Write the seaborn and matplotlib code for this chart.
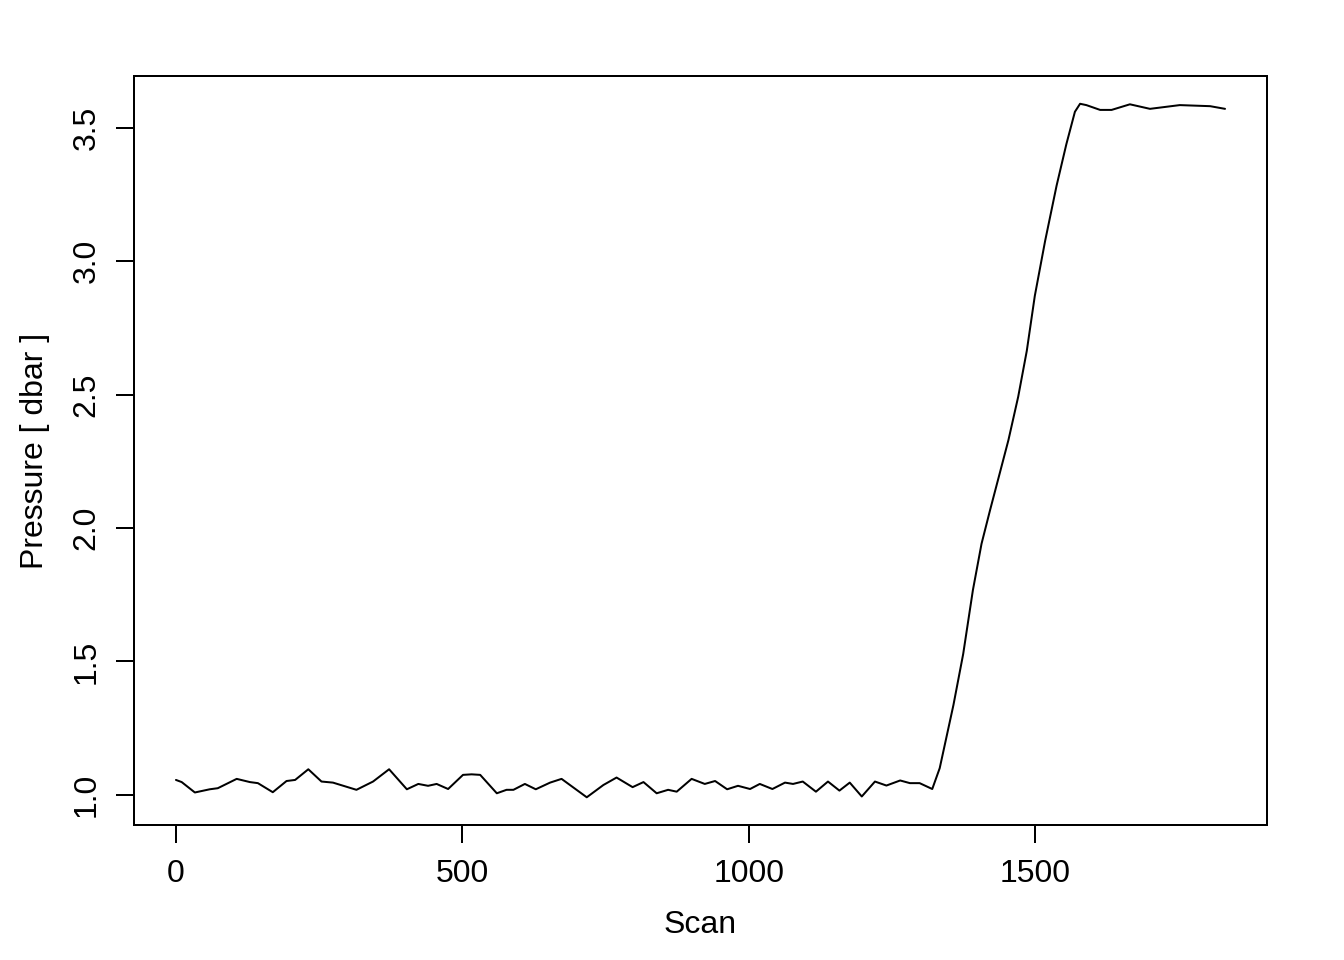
import numpy as np
import pandas as pd
import seaborn as sns
import matplotlib.pyplot as plt

# values
scan = [0, 10, 33, 59, 73, 106, 129, 143, 169, 193, 208, 231, 254, 274, 315,
        344, 372, 403, 423, 440, 455, 475, 501, 516, 531, 560, 577, 589, 609,
        628, 653, 673, 717, 746, 769, 797, 816, 839, 859, 874, 900, 923, 941,
        962, 981, 1002, 1019, 1041, 1063, 1077, 1094, 1117, 1138, 1158, 1176,
        1197, 1220, 1240, 1264, 1281, 1298, 1320, 1333, 1357, 1374, 1391, 1406,
        1421, 1438, 1453, 1470, 1485, 1499, 1517, 1537, 1554, 1569, 1578, 1589,
        1613, 1633, 1665, 1700, 1752, 1805, 1831]
pressure = [1.056, 1.048, 1.009, 1.021, 1.025, 1.060, 1.048, 1.044, 1.010,
            1.052, 1.056, 1.096, 1.050, 1.046, 1.019, 1.050, 1.096, 1.021,
            1.041, 1.034, 1.041, 1.022, 1.075, 1.077, 1.075, 1.006, 1.019,
            1.019, 1.041, 1.021, 1.046, 1.060, 0.991, 1.037, 1.065, 1.029,
            1.048, 1.006, 1.019, 1.012, 1.060, 1.041, 1.052, 1.021, 1.034,
            1.022, 1.041, 1.022, 1.046, 1.041, 1.050, 1.012, 1.050, 1.016,
            1.046, 0.994, 1.050, 1.035, 1.054, 1.044, 1.044, 1.022, 1.100,
            1.337, 1.528, 1.768, 1.941, 2.068, 2.207, 2.330, 2.492, 2.664,
            2.870, 3.076, 3.283, 3.438, 3.560, 3.590, 3.585, 3.567, 3.567,
            3.588, 3.571, 3.585, 3.581, 3.571]
xticks = [0, 500, 1000, 1500]
yticks = [1.0, 1.5, 2.0, 2.5, 3.0, 3.5]

df = pd.DataFrame({"Scan": scan, "Pressure": pressure})

sns.set_theme(style="ticks")
plt.rcParams['font.family'] = ['Liberation Sans', 'DejaVu Sans']

fig = plt.figure(figsize=(7, 5), dpi=192)
ax = fig.add_axes([0.0997, 0.1406, 0.8430, 0.7802])
sns.lineplot(data=df, x="Scan", y="Pressure", ax=ax, color="black",
             linewidth=0.75, sort=False)

# R style 4% padding
span_x = max(scan) - min(scan)
span_y = max(pressure) - min(pressure)
ax.set_xlim(min(scan) - 0.04 * span_x, max(scan) + 0.04 * span_x)
ax.set_ylim(min(pressure) - 0.04 * span_y, max(pressure) + 0.04 * span_y)

ax.set_xticks(xticks)
ax.set_xticklabels([str(t) for t in xticks])
ax.set_yticks(yticks)
ax.set_yticklabels([f"{t:.1f}" for t in yticks], rotation=90, va="center")

for s in ax.spines.values():
    s.set_visible(True)
    s.set_linewidth(0.75)
    s.set_color("black")
ax.tick_params(axis="both", direction="out", length=6.7, width=0.75,
               color="black", labelsize=12, labelcolor="black")
ax.tick_params(axis="x", pad=6)
ax.tick_params(axis="y", pad=5.5)
ax.set_xlabel("Scan", fontsize=12, labelpad=7.8, color="black")
ax.set_ylabel("Pressure [ dbar ]", fontsize=12, labelpad=8, color="black")
ax.grid(False)

fig.savefig("out.png", dpi=192, facecolor="white")
